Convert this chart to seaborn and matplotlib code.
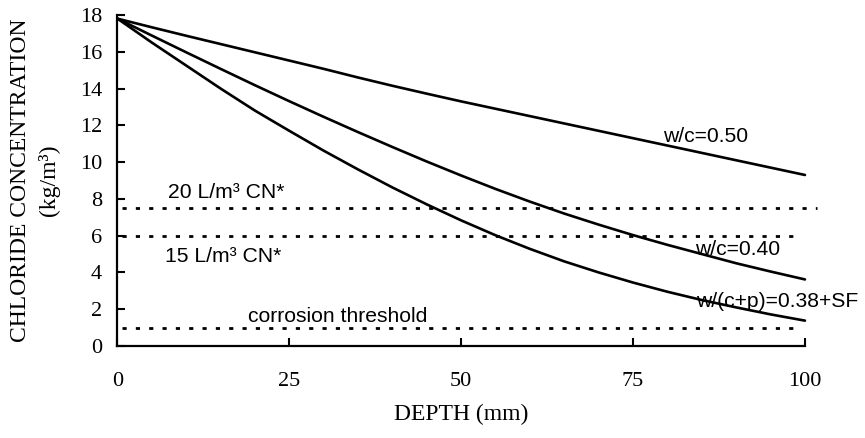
import numpy as np
import pandas as pd
import matplotlib
matplotlib.use("Agg")
import matplotlib.pyplot as plt
import seaborn as sns

# values (every 5 mm)
depth = [0, 5, 10, 15, 20, 25, 30, 35, 40, 45, 50,
         55, 60, 65, 70, 75, 80, 85, 90, 95, 100]
wc050 = [17.8, 17.33, 16.87, 16.42, 15.97, 15.52, 15.07, 14.6, 14.15, 13.72, 13.3,
         12.9, 12.5, 12.1, 11.7, 11.3, 10.9, 10.5, 10.1, 9.7, 9.3]
wc040 = [17.8, 16.88, 15.97, 15.07, 14.18, 13.31, 12.46, 11.63, 10.82, 10.03, 9.27,
         8.54, 7.85, 7.2, 6.6, 6.03, 5.5, 5.0, 4.5, 4.05, 3.62]
wcp038sf = [17.8, 16.5, 15.25, 14.0, 12.8, 11.7, 10.62, 9.6, 8.62, 7.7, 6.83,
            6.02, 5.28, 4.6, 4.0, 3.45, 2.95, 2.5, 2.1, 1.72, 1.38]

series_names = ["w/c=0.50", "w/c=0.40", "w/(c+p)=0.38+SF"]

limit_names = ["20 L/m³ CN*", "15 L/m³ CN*", "corrosion threshold"]
limit_values = [7.5, 6.0, 1.0]
limit_ends = [101.7, 99.6, 99.3]

x_ticks = [0, 25, 50, 75, 100]
y_ticks = list(range(0, 19, 2))

df = pd.DataFrame({
    "depth": depth * 3,
    "chloride": wc050 + wc040 + wcp038sf,
    "mix": np.repeat(series_names, len(depth)),
})

sns.set_style("ticks")
plt.rcParams["font.family"] = ["Liberation Serif", "DejaVu Serif"]
plt.rcParams["text.color"] = "black"
plt.rcParams["axes.labelcolor"] = "black"
plt.rcParams["xtick.color"] = "black"
plt.rcParams["ytick.color"] = "black"
plt.rcParams["axes.edgecolor"] = "black"

fig, ax = plt.subplots(figsize=(8.65, 4.38), dpi=100)
fig.subplots_adjust(left=0.1358, right=0.9306, bottom=0.21, top=0.9658)

sns.lineplot(data=df, x="depth", y="chloride", units="mix", estimator=None,
             color="black", linewidth=1.9, ax=ax, clip_on=False, legend=False)

for val, end in zip(limit_values, limit_ends):
    ax.hlines(val, 0.6, end, colors="black", linewidth=2.0,
              linestyles=(0, (1.5, 3.3)), clip_on=False)

# curve / threshold labels
sans = ["Liberation Sans", "DejaVu Sans"]
ax.text(79.3, 11.1, series_names[0], family=sans, fontsize=15.2, va="baseline")
ax.text(84.0, 4.95, series_names[1], family=sans, fontsize=15.2, va="baseline")
ax.text(84.2, 2.1, series_names[2], family=sans, fontsize=15.2, va="baseline", clip_on=False)
ax.text(7.3, 8.04, limit_names[0], family=sans, fontsize=15.2, va="baseline")
ax.text(6.9, 4.57, limit_names[1], family=sans, fontsize=15.2, va="baseline")
ax.text(19.0, 1.32, limit_names[2], family=sans, fontsize=15.2, va="baseline")

ax.set_xlim(0, 100)
ax.set_ylim(0, 18)
ax.set_xticks(x_ticks)
ax.set_yticks(y_ticks)
ax.tick_params(direction="in", length=6, width=1.5, labelsize=16)
ax.tick_params(axis="x", pad=19)
ax.tick_params(axis="y", pad=11)

ax.set_xlabel("DEPTH (mm)", fontsize=17)
ax.xaxis.set_label_coords(0.5, -0.175)
ax.set_ylabel("CHLORIDE CONCENTRATION\n(kg/m³)", fontsize=17, linespacing=1.45)
ax.yaxis.set_label_coords(-0.083, 0.5)

sns.despine(ax=ax)
for s in ["left", "bottom"]:
    ax.spines[s].set_linewidth(1.6)

fig.savefig("out.png", dpi=100)
